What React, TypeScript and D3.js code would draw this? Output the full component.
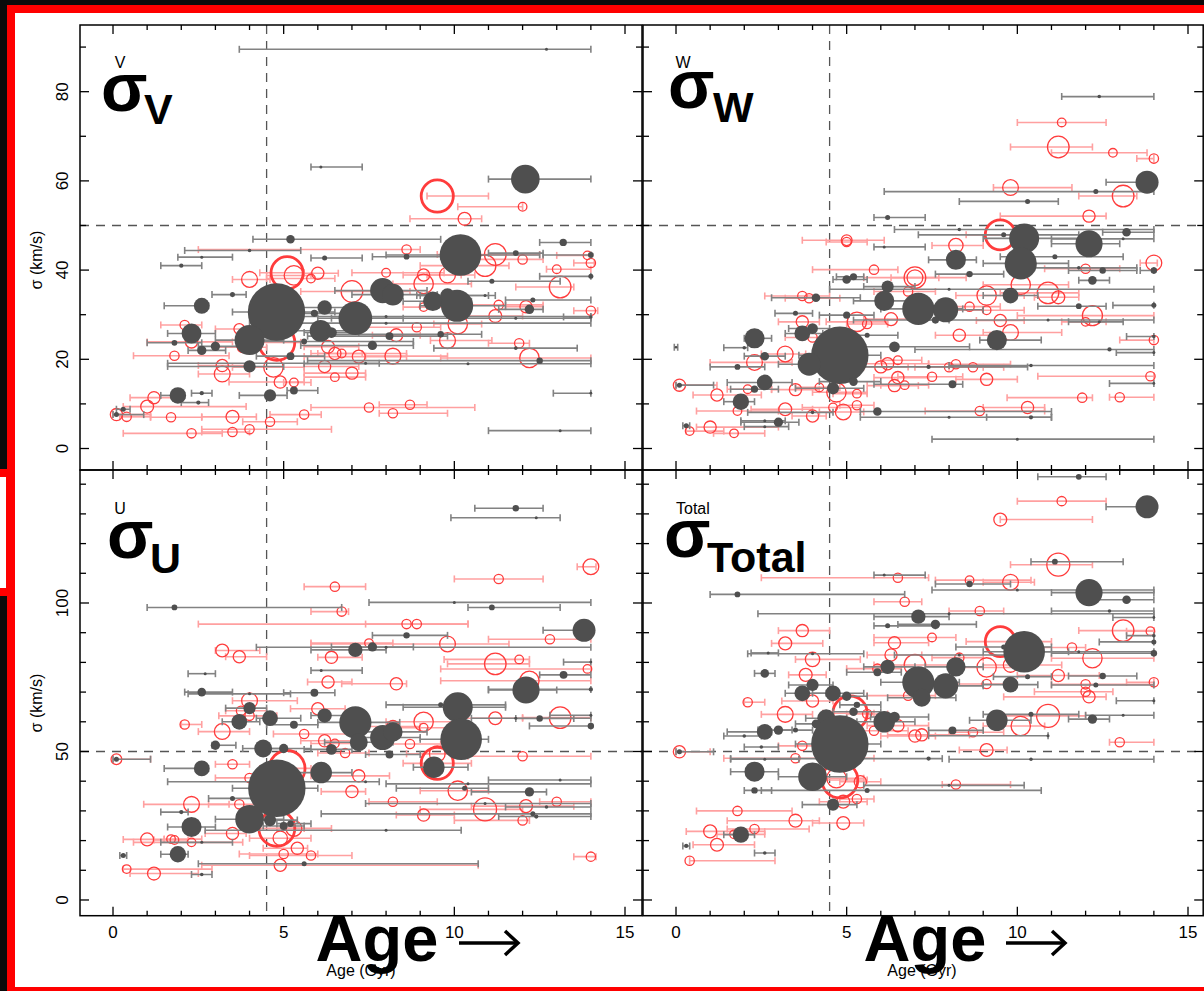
import React from 'react';
import * as d3 from 'd3';

// Each row: [age (Gyr), sigma (km/s), age lower bound, age upper bound, number of stars]
type Row = [number, number, number, number, number];

const V_GRAY: Row[] = [
  [6.09, 63.1, 5.8, 7.3, 1], [12.08, 60.4, 11.0, 14.0, 91], [5.2, 46.9, 4.1, 9.6, 8], [13.19, 46.2, 12.5, 14.0, 6],
  [4.0, 44.4, 2.1, 5.5, 1.4], [2.6, 42.9, 1.9, 3.5, 1], [2.0, 41.0, 1.4, 2.6, 2], [6.2, 42.7, 5.8, 7.3, 2.8],
  [8.6, 43.0, 7.6, 9.6, 3.7], [10.18, 43.4, 8.0, 12.5, 192], [11.8, 43.8, 11.0, 12.6, 3.7], [14.0, 43.4, 12.6, 14.0, 3.7],
  [14.0, 38.6, 12.5, 14.0, 2.8], [11.1, 37.5, 10.4, 13.1, 2.8], [7.9, 35.4, 6.5, 9.2, 70], [8.2, 34.5, 7.0, 9.5, 52],
  [3.5, 34.5, 2.9, 3.9, 2.8], [10.9, 34.3, 8.9, 11.2, 1], [2.6, 32.0, 1.5, 2.8, 28], [4.79, 30.6, 3.5, 6.5, 366],
  [6.2, 31.6, 5.5, 7.0, 23], [5.9, 30.3, 5.2, 6.8, 5.7], [7.1, 29.2, 6.0, 8.5, 126], [9.37, 33.0, 8.5, 10.5, 42],
  [9.8, 34.3, 9.0, 11.0, 23], [10.08, 32.0, 9.0, 11.5, 115], [12.3, 33.3, 11.5, 14.0, 2.8], [12.2, 31.2, 11.3, 12.6, 10],
  [8.0, 29.6, 5.0, 14.0, 1], [8.0, 28.1, 4.0, 14.0, 1], [14.0, 29.5, 13.2, 14.0, 1.4], [11.8, 29.2, 6.4, 14.0, 1],
  [2.3, 25.8, 1.6, 3.0, 44], [6.08, 26.4, 5.0, 7.0, 52], [6.4, 26.0, 5.6, 7.2, 12.8], [4.0, 24.3, 3.0, 5.0, 100],
  [1.8, 23.7, 1.0, 2.6, 3.7], [2.6, 22.0, 2.2, 3.3, 9.6], [3.0, 22.9, 2.5, 3.9, 9.6], [5.6, 24.0, 4.4, 8.8, 3.7],
  [8.1, 25.2, 5.7, 9.8, 6.9], [9.6, 25.6, 6.4, 10.8, 4.6], [7.6, 23.1, 5.5, 8.8, 9.6], [11.8, 22.5, 9.4, 13.6, 1.4],
  [5.2, 20.7, 4.2, 6.2, 6.9], [12.5, 19.7, 5.7, 14.0, 4.6], [7.4, 19.1, 1.6, 7.8, 1], [10.4, 19.0, 5.6, 14.0, 1],
  [4.0, 18.4, 1.6, 5.0, 16.5], [1.9, 11.9, 1.4, 2.1, 30], [2.6, 12.4, 2.3, 2.9, 2], [2.5, 10.3, 2.0, 2.8, 2],
  [4.6, 11.9, 3.7, 5.1, 16.5], [5.3, 13.0, 5.1, 6.0, 6.9], [14.0, 12.4, 12.9, 14.0, 0.9], [0.3, 8.8, 0.1, 0.5, 2.8],
  [0.1, 7.6, 0.0, 0.9, 2.8], [13.1, 4.0, 11.0, 14.0, 1], [12.7, 89.5, 3.7, 14.0, 1],
];

const V_RED: Row[] = [
  [9.5, 56.6, 9.2, 11.0, 115], [12.0, 54.2, 10.1, 12.0, 8.2], [10.3, 51.5, 8.7, 10.8, 18.5], [8.6, 44.6, 2.5, 9.0, 9.6],
  [11.2, 43.5, 9.5, 12.5, 52], [10.9, 41.0, 9.0, 11.6, 52], [12.0, 42.4, 10.0, 12.6, 9.6], [13.9, 43.3, 13.0, 14.0, 8.2],
  [14.0, 41.6, 13.5, 14.1, 9.6], [13.0, 40.2, 12.7, 14.0, 8.2], [5.1, 39.4, 4.3, 5.6, 115], [5.3, 38.8, 4.5, 5.8, 42],
  [4.0, 37.9, 3.5, 4.6, 28], [6.0, 39.3, 5.6, 6.6, 16.5], [5.8, 38.1, 4.5, 6.5, 8.2], [8.0, 39.4, 7.0, 9.7, 8.2],
  [9.1, 38.9, 8.5, 10.2, 16.5], [9.1, 36.9, 8.2, 10.5, 42], [9.8, 38.9, 9.2, 10.6, 28], [13.1, 36.2, 11.8, 13.5, 52],
  [7.0, 35.2, 5.5, 8.7, 52], [11.3, 32.2, 10.2, 12.6, 9.6], [12.1, 31.8, 11.5, 12.6, 16.5], [14.0, 30.9, 13.5, 14.2, 9.6],
  [11.2, 29.7, 10.3, 12.0, 18.5], [9.1, 31.7, 8.5, 9.8, 8.2], [10.1, 27.9, 9.4, 10.8, 42], [8.9, 27.2, 7.3, 9.6, 9.6],
  [2.1, 27.7, 1.4, 2.6, 9.6], [3.7, 26.8, 3.0, 4.6, 12.8], [8.3, 25.4, 7.6, 9.0, 18.5], [2.3, 23.9, 1.0, 3.5, 16.5],
  [3.8, 22.7, 3.0, 4.5, 12.8], [4.8, 23.8, 4.2, 5.5, 143], [9.8, 24.2, 9.3, 11.1, 28], [11.9, 23.6, 11.0, 12.2, 9.6],
  [1.8, 20.8, 0.6, 3.4, 9.6], [6.3, 22.8, 5.6, 7.2, 18.5], [6.5, 21.3, 5.8, 7.3, 16.5], [6.7, 21.3, 6.0, 8.6, 8.2],
  [7.2, 20.6, 5.6, 8.6, 18.5], [8.2, 20.7, 7.4, 9.8, 28], [12.2, 20.3, 9.6, 14.0, 42], [4.7, 18.2, 3.5, 5.6, 42],
  [6.2, 18.4, 5.6, 7.2, 16.5], [3.2, 18.6, 2.5, 4.0, 16.5], [3.2, 16.7, 2.5, 4.0, 28], [7.0, 16.9, 5.6, 7.4, 16.5],
  [6.5, 16.0, 5.6, 7.4, 8.2], [4.9, 14.9, 3.4, 5.6, 16.5], [5.3, 14.8, 5.0, 5.8, 8.2], [1.2, 11.4, 0.5, 2.0, 16.5],
  [1.0, 9.4, 0.3, 3.9, 18.5], [0.1, 7.6, 0.0, 1.1, 16.5], [0.4, 7.1, 0.2, 1.1, 9.6], [1.7, 7.0, 1.1, 2.6, 9.6],
  [3.5, 7.1, 2.6, 4.2, 18.5], [4.6, 6.0, 3.8, 5.4, 9.6], [5.6, 7.6, 4.6, 6.1, 9.6], [7.5, 9.2, 5.8, 10.6, 9.6],
  [8.7, 9.8, 7.8, 9.2, 9.6], [8.2, 7.9, 7.8, 9.8, 9.6], [2.3, 3.4, 0.3, 3.2, 9.6], [3.5, 3.7, 2.6, 4.0, 9.6],
  [4.0, 4.3, 2.6, 6.4, 9.6],
];

const W_GRAY: Row[] = [
  [12.4, 78.9, 11.3, 14.0, 1.4], [13.8, 59.7, 12.6, 14.0, 59], [12.3, 57.6, 6.1, 14.0, 2.8], [10.3, 55.4, 8.3, 11.2, 2.8],
  [6.2, 51.8, 5.8, 7.3, 2.8], [8.3, 49.1, 6.4, 14.0, 1.4], [9.6, 47.9, 7.1, 11.8, 2.8], [10.2, 47.1, 9.0, 11.8, 100],
  [12.1, 45.9, 11.0, 13.0, 82], [13.2, 48.5, 12.5, 14.0, 8.2], [13.1, 47.0, 11.0, 14.0, 1], [6.1, 45.2, 5.8, 7.3, 1],
  [8.2, 42.3, 7.4, 8.8, 44.8], [11.1, 43.0, 9.5, 13.1, 2.8], [10.1, 41.5, 9.0, 11.5, 115], [11.8, 40.5, 10.5, 13.5, 1.4],
  [12.5, 39.9, 11.5, 13.5, 4.6], [14.0, 39.9, 13.6, 14.0, 4.6], [8.6, 39.1, 7.6, 9.6, 4.6], [12.2, 37.7, 11.8, 12.7, 8.2],
  [5.0, 37.9, 4.6, 5.6, 8.2], [5.2, 38.5, 4.7, 5.5, 5.7], [8.0, 35.7, 4.5, 14.0, 1], [6.2, 36.3, 5.5, 7.0, 16.5],
  [6.1, 33.1, 5.2, 7.2, 44.8], [9.8, 34.3, 9.0, 10.6, 27.6], [4.1, 33.8, 2.8, 5.4, 8.2], [7.1, 31.3, 6.0, 8.4, 115],
  [7.9, 31.1, 7.0, 9.0, 70], [7.6, 28.8, 7.0, 8.0, 5.7], [3.5, 30.3, 2.9, 4.0, 2.8], [5.0, 29.9, 4.2, 5.8, 5.7],
  [11.8, 31.9, 10.6, 12.6, 3.7], [14.0, 32.1, 12.8, 14.0, 2.8], [10.9, 28.8, 5.2, 14.0, 1], [12.4, 28.4, 11.5, 13.1, 1],
  [4.0, 26.9, 3.3, 4.5, 12.8], [3.7, 25.8, 3.2, 4.3, 27.6], [2.3, 24.7, 2.0, 2.8, 44.8], [5.6, 25.4, 4.8, 6.5, 2.8],
  [9.4, 24.3, 8.9, 10.7, 44.8], [14.0, 25.1, 13.2, 14.0, 1.4], [0.0, 22.7, -0.05, 0.05, 0.7], [2.0, 22.6, 1.4, 2.1, 1.4],
  [4.8, 20.9, 3.6, 6.0, 366], [3.9, 18.9, 3.0, 4.6, 58.5], [6.4, 22.8, 5.0, 8.6, 12.8], [2.6, 20.7, 2.0, 3.2, 8.2],
  [12.7, 22.2, 7.0, 14.0, 2], [14.0, 21.5, 12.9, 14.0, 1], [1.8, 18.3, 1.0, 2.6, 3.7], [7.4, 18.3, 5.0, 10.3, 2],
  [10.4, 18.6, 8.0, 14.0, 1.4], [2.6, 14.8, 1.5, 3.4, 27.6], [2.3, 13.3, 1.6, 3.0, 5.7], [8.1, 14.4, 5.8, 8.4, 6.9],
  [4.6, 13.5, 3.5, 5.5, 16.5], [5.2, 15.0, 4.2, 6.0, 8.2], [14.0, 14.6, 12.7, 14.0, 0.9], [1.9, 10.5, 1.4, 2.3, 30],
  [4.0, 8.1, 2.1, 4.6, 1.4], [5.9, 8.3, 5.4, 11.0, 8.2], [3.0, 5.9, 1.9, 3.6, 9.6], [2.6, 6.2, 1.9, 3.2, 1],
  [2.6, 4.9, 2.0, 3.3, 1], [0.3, 5.1, 0.2, 0.4, 2.8], [0.1, 14.2, 0.0, 1.1, 2.8], [10.4, 7.0, 9.1, 11.0, 2],
  [8.0, 7.0, 5.4, 11.0, 1], [10.0, 2.1, 7.5, 14.0, 1],
];

const W_RED: Row[] = [
  [11.3, 73.1, 10.0, 12.6, 8.2], [11.2, 67.6, 9.8, 12.2, 52], [12.8, 66.3, 11.0, 13.8, 8.2], [14.0, 65.0, 13.5, 14.0, 9.6],
  [9.8, 58.5, 9.3, 11.6, 27.6], [13.1, 56.6, 11.8, 13.5, 52], [12.1, 52.1, 9.5, 12.6, 16.5], [9.5, 47.9, 8.5, 10.5, 100],
  [8.2, 45.5, 7.5, 9.0, 22.8], [5.0, 46.7, 3.7, 6.1, 12.8], [5.0, 46.3, 4.4, 5.6, 9.6], [14.0, 41.6, 13.6, 14.1, 27.6],
  [5.8, 40.1, 4.0, 6.5, 9.6], [7.0, 38.3, 5.5, 8.5, 52], [7.0, 38.3, 6.3, 7.7, 27.6], [12.0, 40.3, 10.8, 13.0, 9.6],
  [10.1, 36.7, 9.0, 11.5, 41.6], [10.9, 34.9, 9.5, 11.8, 51.4], [11.2, 33.9, 10.5, 11.8, 18.5], [9.1, 34.3, 8.2, 10.2, 41.6],
  [3.7, 34.2, 2.6, 4.5, 9.6], [3.9, 33.7, 3.2, 4.8, 9.6], [6.8, 35.2, 5.8, 7.6, 9.6], [8.6, 31.8, 7.8, 9.5, 9.6],
  [9.1, 31.0, 8.0, 10.2, 8.2], [5.3, 28.4, 4.4, 6.2, 41.6], [5.6, 27.9, 5.0, 6.2, 9.6], [6.3, 29.0, 5.5, 7.2, 18.5],
  [3.7, 28.4, 3.0, 4.2, 16.5], [9.5, 28.7, 8.8, 10.2, 16.5], [12.2, 29.8, 10.0, 14.0, 44.8], [12.0, 28.4, 11.3, 12.6, 8.2],
  [4.0, 24.9, 3.2, 4.8, 9.6], [8.3, 25.4, 7.6, 9.2, 16.5], [9.8, 26.0, 9.0, 11.3, 27.6], [14.0, 24.3, 13.0, 14.0, 9.6],
  [3.2, 21.2, 2.5, 3.8, 27.6], [2.3, 19.3, 1.0, 3.4, 27.6], [6.2, 19.0, 5.4, 7.4, 16.5], [6.0, 18.3, 5.5, 6.8, 16.5],
  [6.5, 19.8, 6.0, 7.2, 8.2], [8.0, 18.2, 7.0, 9.0, 9.6], [8.2, 18.9, 7.4, 9.8, 9.6], [8.7, 18.2, 8.0, 9.6, 9.6],
  [6.5, 15.9, 5.8, 7.4, 16.5], [7.5, 16.1, 6.5, 8.4, 9.6], [9.1, 15.5, 8.2, 10.0, 16.5], [13.9, 16.2, 10.6, 14.0, 9.6],
  [0.1, 14.2, 0.0, 1.2, 16.5], [1.2, 12.0, 0.5, 2.5, 16.5], [2.1, 13.3, 1.5, 2.8, 8.2], [3.5, 13.2, 2.8, 4.2, 16.5],
  [4.2, 13.7, 3.5, 4.8, 8.2], [4.7, 12.6, 4.0, 5.6, 41.6], [5.3, 12.3, 4.6, 5.6, 8.2], [6.4, 14.1, 5.6, 7.1, 16.5],
  [6.7, 14.2, 6.0, 7.4, 8.2], [11.9, 11.4, 9.7, 12.2, 9.6], [13.0, 11.5, 12.7, 14.0, 9.6], [1.8, 8.4, 0.6, 3.0, 8.2],
  [3.2, 8.8, 2.2, 4.0, 18.5], [4.0, 7.3, 3.4, 4.4, 16.5], [4.6, 9.2, 3.7, 5.4, 8.2], [4.9, 8.2, 4.2, 5.5, 27.6],
  [5.3, 9.7, 4.8, 5.8, 9.6], [8.9, 8.4, 7.3, 10.8, 9.6], [10.3, 9.2, 9.0, 10.8, 16.5], [1.0, 4.8, 0.6, 3.0, 16.5],
  [0.4, 3.9, 0.3, 1.4, 8.2], [1.7, 3.4, 1.1, 2.6, 8.2],
];

const U_GRAY: Row[] = [
  [11.8, 131.9, 10.6, 12.6, 4.6], [12.4, 128.7, 9.9, 13.1, 1], [10.0, 100.2, 7.5, 14.0, 1], [1.8, 98.5, 1.0, 6.7, 3.7],
  [11.1, 98.5, 10.4, 13.1, 3.7], [13.8, 90.8, 12.6, 14.0, 58.5], [8.6, 89.1, 7.6, 9.8, 4.6], [7.1, 84.2, 5.8, 8.0, 22.8],
  [7.6, 85.2, 6.4, 8.8, 9.6], [8.0, 85.1, 4.2, 14.0, 1], [14.0, 80.1, 13.2, 14.0, 0.9], [2.7, 76.2, 2.2, 3.0, 1],
  [6.1, 77.3, 5.8, 7.3, 1], [13.2, 75.8, 12.5, 14.0, 6.9], [12.1, 70.7, 11.0, 13.0, 82], [14.0, 70.9, 11.0, 14.0, 2],
  [2.6, 70.0, 2.1, 3.5, 8.2], [5.9, 69.8, 5.0, 6.5, 6.9], [4.0, 69.4, 2.2, 5.2, 1], [4.0, 64.6, 3.3, 4.5, 16.5],
  [10.1, 64.9, 8.5, 11.5, 100], [9.6, 65.7, 8.0, 11.5, 2.8], [3.7, 60.0, 3.2, 4.3, 27.6], [4.6, 61.2, 4.2, 5.5, 27.6],
  [6.2, 62.1, 5.8, 7.0, 22.8], [7.1, 59.8, 6.0, 8.4, 115], [5.3, 59.0, 4.5, 6.0, 6.9], [12.5, 61.1, 11.8, 13.5, 4.6],
  [14.0, 58.6, 12.2, 14.0, 4.6], [11.8, 61.2, 10.5, 14.0, 1], [14.0, 62.2, 12.8, 14.0, 1], [7.9, 54.7, 7.0, 9.0, 70],
  [8.2, 56.6, 7.3, 9.2, 41.6], [7.2, 53.1, 6.2, 8.2, 35.7], [10.2, 54.1, 9.0, 11.0, 192], [3.0, 52.1, 2.9, 3.6, 9.6],
  [4.4, 51.0, 3.8, 5.0, 35.7], [5.0, 51.0, 4.6, 5.8, 9.6], [6.4, 50.7, 5.6, 7.0, 12.8], [8.1, 49.0, 7.4, 9.0, 6.9],
  [0.1, 47.4, 0.0, 1.1, 2.8], [2.6, 44.3, 1.5, 2.8, 27.6], [9.4, 44.7, 8.8, 10.4, 51.4], [6.1, 42.9, 5.2, 7.0, 51.4],
  [4.8, 37.6, 3.5, 6.0, 366], [7.4, 39.8, 1.6, 7.8, 1], [10.4, 39.1, 8.0, 14.0, 1], [13.1, 40.4, 11.0, 14.0, 1],
  [10.3, 37.6, 8.3, 11.0, 2.8], [12.2, 36.4, 10.5, 12.7, 9.6], [3.5, 34.2, 2.8, 4.5, 2.8], [4.0, 27.2, 3.0, 5.0, 91],
  [4.6, 26.9, 3.8, 5.4, 16.5], [2.0, 29.6, 1.4, 2.2, 2], [10.9, 32.5, 7.4, 14.0, 1], [12.7, 31.3, 11.5, 14.0, 1.4],
  [12.3, 29.0, 6.1, 14.0, 2.8], [12.4, 28.1, 11.3, 14.0, 2], [2.3, 24.6, 1.6, 3.0, 44.8], [5.0, 24.9, 4.4, 5.6, 6.9],
  [5.2, 25.7, 4.8, 5.8, 4.6], [8.0, 23.5, 2.7, 10.2, 1], [2.6, 19.4, 1.4, 3.5, 1], [1.9, 15.4, 1.4, 2.2, 30],
  [0.3, 15.0, 0.2, 0.4, 2.8], [5.6, 12.2, 2.5, 10.7, 2.8], [2.6, 8.6, 2.3, 2.9, 1.4],
];

const U_RED: Row[] = [
  [14.0, 112.2, 13.6, 14.15, 27.6], [11.3, 108.1, 10.0, 12.6, 9.6], [6.5, 105.5, 5.6, 7.4, 9.6], [6.7, 97.1, 5.8, 6.9, 9.6],
  [8.6, 92.9, 2.5, 10.4, 9.6], [8.9, 92.9, 7.4, 10.4, 9.6], [12.8, 87.8, 11.0, 14.0, 9.6], [7.5, 86.5, 5.8, 8.2, 8.2],
  [9.8, 86.2, 5.8, 11.6, 27.6], [3.2, 84.0, 3.0, 4.3, 18.5], [3.7, 81.9, 3.3, 4.5, 16.5], [6.4, 81.7, 6.0, 7.3, 16.5],
  [11.2, 79.5, 9.8, 12.2, 51.4], [11.9, 81.0, 9.7, 12.2, 8.2], [13.9, 77.8, 9.6, 14.0, 8.2], [6.3, 73.4, 5.7, 7.0, 16.5],
  [8.3, 72.8, 6.7, 8.6, 16.5], [4.0, 67.1, 3.5, 5.4, 27.6], [6.0, 64.4, 5.2, 6.8, 16.5], [3.75, 63.7, 3.3, 4.5, 9.6],
  [4.0, 62.0, 3.1, 4.8, 9.6], [12.2, 73.8, 9.6, 14.0, 41.6], [11.2, 61.2, 10.0, 12.0, 18.5], [13.1, 61.4, 12.0, 14.0, 51.4],
  [9.1, 60.0, 8.0, 10.3, 41.6], [9.1, 58.0, 8.3, 10.0, 8.2], [8.2, 58.4, 7.5, 9.0, 16.5], [2.1, 59.1, 2.0, 2.6, 9.6],
  [3.2, 56.7, 2.5, 4.0, 27.6], [5.6, 55.9, 4.7, 7.2, 9.6], [6.2, 53.6, 5.5, 7.0, 16.5], [6.5, 52.7, 5.8, 7.2, 8.2],
  [8.7, 52.5, 8.0, 9.6, 9.6], [6.8, 49.5, 6.0, 7.5, 9.6], [9.5, 49.2, 8.6, 10.2, 27.6], [9.5, 46.0, 8.5, 10.5, 115],
  [12.0, 48.4, 10.4, 14.0, 9.6], [3.5, 45.7, 3.0, 4.0, 9.6], [5.1, 44.3, 4.3, 5.8, 143], [7.2, 41.8, 5.8, 8.1, 16.5],
  [7.0, 36.5, 6.1, 7.4, 16.5], [10.1, 36.8, 9.0, 11.0, 41.6], [4.0, 41.1, 3.0, 4.8, 9.6], [2.3, 32.2, 0.9, 3.4, 27.6],
  [3.7, 32.2, 2.8, 4.5, 9.6], [8.2, 33.1, 7.5, 9.5, 9.6], [13.0, 33.1, 12.5, 14.0, 9.6], [10.9, 30.5, 9.0, 12.0, 58.5],
  [12.1, 31.6, 10.5, 13.5, 18.5], [9.1, 28.6, 8.3, 10.0, 16.5], [12.0, 26.8, 10.0, 12.2, 9.6], [4.8, 24.1, 4.0, 5.6, 143],
  [5.3, 24.1, 4.8, 6.4, 27.6], [4.9, 20.8, 4.0, 5.8, 22.8], [5.4, 17.4, 4.4, 5.7, 16.5], [3.5, 22.4, 2.7, 3.9, 16.5],
  [1.0, 20.4, 0.3, 1.5, 18.5], [1.7, 20.5, 1.5, 2.6, 8.2], [1.8, 20.2, 1.2, 2.2, 8.2], [2.3, 19.4, 0.6, 3.8, 8.2],
  [5.0, 15.5, 3.7, 6.0, 9.6], [5.8, 15.0, 4.0, 7.0, 9.6], [4.9, 11.7, 2.6, 10.7, 16.5], [0.4, 10.4, 0.3, 2.9, 8.2],
  [1.2, 8.9, 0.5, 2.5, 18.5], [14.0, 14.6, 13.5, 14.15, 9.6], [0.1, 47.4, 0.0, 1.1, 12.8],
];

const TOTAL_GRAY: Row[] = [
  [11.8, 142.5, 10.6, 12.6, 3.7], [13.8, 132.4, 12.6, 14.0, 58.5], [11.1, 113.9, 10.4, 13.1, 3.7], [12.1, 103.5, 11.0, 14.0, 82],
  [13.2, 101.1, 12.3, 14.0, 8.2], [1.8, 102.9, 1.0, 6.7, 3.7], [6.1, 109.4, 5.8, 7.3, 1], [8.6, 106.4, 7.6, 9.8, 4.6],
  [10.0, 104.4, 7.5, 14.0, 1], [7.1, 95.4, 5.8, 8.0, 22.8], [7.6, 92.8, 6.5, 8.8, 9.6], [6.2, 92.3, 5.8, 7.6, 2.8],
  [8.0, 96.4, 2.4, 14.0, 1], [12.7, 97.3, 11.0, 14.0, 1.4], [14.0, 95.1, 12.8, 14.0, 0.9], [14.0, 89.0, 13.2, 14.0, 1.4],
  [14.0, 86.9, 12.4, 14.0, 2.8], [14.0, 83.1, 11.0, 14.0, 4.6], [10.2, 83.6, 9.0, 11.5, 192], [9.6, 85.2, 8.2, 11.0, 2.8],
  [2.7, 83.2, 2.2, 3.0, 1], [4.0, 82.9, 2.1, 5.5, 1], [8.3, 82.5, 6.4, 10.6, 1], [11.8, 83.6, 10.5, 14.0, 1],
  [2.6, 76.3, 2.3, 2.9, 8.2], [6.2, 78.5, 5.5, 7.0, 22.8], [5.9, 76.7, 5.0, 6.6, 6.9], [8.2, 78.5, 7.3, 9.0, 41.6],
  [7.1, 73.3, 6.0, 8.3, 115], [7.9, 72.1, 7.0, 9.0, 70], [7.2, 68.1, 6.2, 8.2, 35.7], [9.8, 72.5, 9.0, 10.6, 27.6],
  [12.5, 75.4, 11.5, 13.5, 4.6], [12.3, 72.4, 11.0, 14.0, 2.8], [10.3, 75.2, 9.3, 11.0, 2.8], [14.0, 67.1, 12.9, 14.0, 1],
  [3.7, 69.6, 3.2, 4.4, 27.6], [4.0, 72.4, 3.3, 4.6, 16.5], [4.6, 69.6, 4.0, 5.5, 27.6], [5.0, 68.6, 4.5, 5.6, 9.6],
  [5.3, 65.7, 4.8, 6.0, 4.6], [5.2, 63.4, 4.6, 6.0, 8.2], [6.1, 60.0, 5.3, 7.0, 51.4], [6.4, 61.6, 5.7, 7.4, 12.8],
  [9.4, 60.5, 8.6, 10.4, 51.4], [12.2, 60.9, 11.5, 12.7, 9.6], [10.4, 62.5, 9.0, 11.8, 2.8], [13.1, 62.2, 12.0, 14.0, 1],
  [4.4, 61.2, 3.8, 5.0, 35.7], [4.1, 59.3, 3.5, 4.6, 8.2], [4.8, 52.5, 3.5, 6.0, 366], [2.6, 56.6, 1.5, 2.8, 27.6],
  [3.0, 57.2, 2.4, 3.4, 9.6], [3.5, 57.2, 3.0, 4.0, 2.8], [2.0, 55.2, 1.4, 2.5, 1.4], [2.5, 51.5, 2.0, 3.0, 1.4],
  [8.1, 57.1, 7.4, 9.0, 6.9], [10.9, 55.3, 7.4, 10.9, 1], [0.1, 49.9, 0.0, 1.1, 2.8], [7.4, 47.6, 1.6, 7.8, 2],
  [10.4, 47.4, 8.0, 14.0, 1.4], [2.6, 47.4, 1.6, 3.6, 1], [2.3, 43.2, 1.6, 3.0, 44.8], [4.0, 41.5, 3.0, 5.0, 91],
  [2.3, 36.9, 2.0, 2.8, 4.6], [5.6, 36.9, 2.5, 10.7, 2.8], [8.0, 38.6, 5.5, 10.2, 1], [4.6, 32.1, 3.7, 5.3, 16.5],
  [1.9, 22.0, 1.4, 2.3, 30], [0.3, 18.2, 0.2, 0.4, 2], [2.6, 15.8, 2.3, 2.9, 1.4],
];

const TOTAL_RED: Row[] = [
  [11.3, 134.3, 10.0, 12.6, 9.6], [9.5, 128.1, 9.5, 12.2, 18.5], [11.2, 112.9, 9.8, 12.2, 58.5], [6.5, 108.5, 2.5, 7.4, 9.6],
  [8.6, 107.7, 7.6, 10.4, 8.2], [9.8, 107.0, 9.0, 10.5, 27.6], [6.7, 100.4, 5.8, 7.2, 9.6], [8.9, 97.3, 8.0, 9.6, 9.6],
  [13.1, 90.7, 11.8, 14.0, 51.4], [13.9, 90.5, 13.2, 14.0, 8.2], [3.7, 90.7, 3.0, 4.5, 16.5], [3.2, 86.4, 2.8, 4.3, 18.5],
  [6.4, 86.6, 5.8, 7.4, 16.5], [7.5, 88.4, 5.8, 8.2, 8.2], [9.5, 87.0, 8.5, 11.0, 100], [11.6, 85.0, 10.2, 12.0, 9.6],
  [12.2, 81.4, 11.0, 14.0, 41.6], [4.0, 81.0, 3.5, 5.4, 22.8], [6.3, 82.5, 5.6, 7.2, 16.5], [7.0, 79.1, 5.8, 8.0, 51.4],
  [8.3, 81.6, 7.5, 9.0, 9.6], [9.1, 78.3, 8.2, 10.3, 41.6], [9.8, 79.1, 9.0, 11.3, 22.8], [11.2, 75.6, 10.0, 12.4, 16.5],
  [3.8, 75.8, 3.3, 4.4, 18.5], [5.9, 77.9, 5.0, 6.6, 9.6], [14.0, 73.3, 13.2, 14.0, 9.6], [12.0, 72.6, 11.0, 14.0, 9.6],
  [12.0, 70.1, 10.5, 12.8, 9.6], [12.1, 68.4, 9.6, 12.6, 16.5], [9.1, 72.7, 8.0, 9.8, 9.6], [6.8, 68.8, 5.6, 7.6, 9.6],
  [4.0, 67.0, 3.1, 4.6, 16.5], [2.1, 66.6, 2.0, 2.6, 9.6], [3.2, 62.5, 2.5, 4.0, 27.6], [5.1, 62.9, 4.3, 5.8, 131.5],
  [5.6, 62.6, 5.0, 6.2, 9.6], [6.5, 58.7, 5.6, 7.4, 16.5], [5.8, 57.0, 5.0, 6.8, 9.6], [7.0, 55.2, 6.0, 7.6, 16.5],
  [7.2, 55.6, 6.2, 8.6, 16.5], [8.7, 56.5, 8.0, 9.6, 9.6], [10.1, 58.6, 9.0, 10.8, 41.6], [10.9, 62.0, 9.6, 12.0, 58.5],
  [13.0, 53.1, 12.7, 14.0, 9.6], [9.1, 50.5, 8.3, 9.7, 18.5], [3.7, 51.9, 3.0, 4.5, 9.6], [3.5, 47.7, 1.4, 5.8, 9.6],
  [0.1, 49.9, 0.0, 1.0, 16.5], [4.7, 41.0, 4.0, 5.5, 41.6], [4.8, 40.4, 4.2, 5.6, 143], [5.4, 39.8, 4.8, 6.0, 16.5],
  [8.2, 38.9, 7.8, 9.8, 9.6], [5.3, 34.0, 4.8, 5.8, 9.6], [4.9, 33.1, 4.2, 5.6, 18.5], [1.8, 30.0, 0.6, 3.4, 9.6],
  [3.5, 26.7, 1.5, 4.2, 18.5], [4.9, 25.9, 4.0, 5.5, 18.5], [1.0, 23.1, 0.3, 2.6, 18.5], [2.3, 23.9, 1.5, 3.9, 9.6],
  [1.7, 22.1, 1.2, 2.6, 8.2], [1.2, 18.6, 0.5, 2.3, 18.5], [0.4, 13.2, 0.4, 2.9, 9.6],
];

const AGE_DOMAIN: [number, number] = [-0.967, 15.498];
const AGE_TICKS = d3.range(0, 16);
const AGE_LABELS = [0, 5, 10, 15];
const SOLAR_AGE = 4.5;
const SIGMA_REF = 50;

const TOP_SIGMA_DOMAIN: [number, number] = [-4.82, 94.95];
const TOP_SIGMA_TICKS = d3.range(0, 100, 10);
const TOP_SIGMA_LABELS = [0, 20, 40, 60, 80];
const BOTTOM_SIGMA_DOMAIN: [number, number] = [-5.29, 144.78];
const BOTTOM_SIGMA_TICKS = d3.range(0, 150, 10);
const BOTTOM_SIGMA_LABELS = [0, 50, 100];

const GRAY_FILL = '#4f4f4f';
const GRAY_BAR = '#828282';
const RED_RING = '#ff3c3c';
const RED_BAR = '#ffa0a0';
const FONT = '"Liberation Sans", Arial, Helvetica, sans-serif';

const rScale = d3.scaleSqrt().domain([0, 400]).range([0, 30]);

interface PanelSpec {
  id: string;
  left: number;
  top: number;
  bottom: number;
  frameRight: number;
  sigmaDomain: [number, number];
  sigmaTicks: number[];
  sigmaLabels: number[];
  gray: Row[];
  red: Row[];
  component: string;
  showSigmaLabels: boolean;
  showAgeLabels: boolean;
  title: { sx: number; sy: number; subX: number; subY: number; tagX: number; tagY: number; tagAnchor: string };
}

const PANELS: PanelSpec[] = [
  {
    id: 'v', left: 80, top: 25, bottom: 470, frameRight: 642,
    sigmaDomain: TOP_SIGMA_DOMAIN, sigmaTicks: TOP_SIGMA_TICKS, sigmaLabels: TOP_SIGMA_LABELS,
    gray: V_GRAY, red: V_RED, component: 'V', showSigmaLabels: true, showAgeLabels: false,
    title: { sx: 101, sy: 111, subX: 144, subY: 124, tagX: 120, tagY: 68, tagAnchor: 'middle' },
  },
  {
    id: 'w', left: 643, top: 25, bottom: 470, frameRight: 1203.2,
    sigmaDomain: TOP_SIGMA_DOMAIN, sigmaTicks: TOP_SIGMA_TICKS, sigmaLabels: TOP_SIGMA_LABELS,
    gray: W_GRAY, red: W_RED, component: 'W', showSigmaLabels: false, showAgeLabels: false,
    title: { sx: 668, sy: 108, subX: 713, subY: 122, tagX: 683, tagY: 68, tagAnchor: 'middle' },
  },
  {
    id: 'u', left: 80, top: 470, bottom: 915.7, frameRight: 642,
    sigmaDomain: BOTTOM_SIGMA_DOMAIN, sigmaTicks: BOTTOM_SIGMA_TICKS, sigmaLabels: BOTTOM_SIGMA_LABELS,
    gray: U_GRAY, red: U_RED, component: 'U', showSigmaLabels: true, showAgeLabels: true,
    title: { sx: 107, sy: 558, subX: 150, subY: 573, tagX: 120, tagY: 514, tagAnchor: 'middle' },
  },
  {
    id: 't', left: 643, top: 470, bottom: 915.7, frameRight: 1203.2,
    sigmaDomain: BOTTOM_SIGMA_DOMAIN, sigmaTicks: BOTTOM_SIGMA_TICKS, sigmaLabels: BOTTOM_SIGMA_LABELS,
    gray: TOTAL_GRAY, red: TOTAL_RED, component: 'Total', showSigmaLabels: false, showAgeLabels: true,
    title: { sx: 664, sy: 557, subX: 707, subY: 572, tagX: 676, tagY: 514, tagAnchor: 'start' },
  },
];

const PANEL_WIDTH = 562;

function ErrorBar({ x, y, row, color }: { x: d3.ScaleLinear<number, number>; y: d3.ScaleLinear<number, number>; row: Row; color: string }) {
  const [, s, lo, hi] = row;
  const yy = y(s);
  const x0 = x(lo);
  const x1 = x(hi);
  const cap = 3.5;
  return (
    <g stroke={color} strokeWidth={1.6} fill="none">
      <line x1={x0} x2={x1} y1={yy} y2={yy} />
      <line x1={x0} x2={x0} y1={yy - cap} y2={yy + cap} />
      <line x1={x1} x2={x1} y1={yy - cap} y2={yy + cap} />
    </g>
  );
}

function Panel({ p }: { p: PanelSpec }) {
  const right = p.left + PANEL_WIDTH;
  const x = d3.scaleLinear().domain(AGE_DOMAIN).range([p.left, right]);
  const y = d3.scaleLinear().domain(p.sigmaDomain).range([p.bottom, p.top]);
  const clipId = `clip-${p.id}`;
  const fr = p.frameRight;
  const isMajorAge = (t: number) => t % 5 === 0;
  const isMajorSigma = (t: number) => p.sigmaLabels.includes(t);

  return (
    <g>
      <defs>
        <clipPath id={clipId}>
          <rect x={p.left} y={p.top} width={fr - p.left} height={p.bottom - p.top} />
        </clipPath>
      </defs>
      <g clipPath={`url(#${clipId})`}>
        <line x1={x(SOLAR_AGE)} x2={x(SOLAR_AGE)} y1={p.top} y2={p.bottom} stroke="#555" strokeWidth={1.3} strokeDasharray="9 7" />
        <line x1={p.left} x2={fr} y1={y(SIGMA_REF)} y2={y(SIGMA_REF)} stroke="#555" strokeWidth={1.3} strokeDasharray="9 7" />
        {p.red.map((r, i) => <ErrorBar key={`rb${i}`} x={x} y={y} row={r} color={RED_BAR} />)}
        {p.red.map((r, i) => (
          <circle key={`rc${i}`} cx={x(r[0])} cy={y(r[1])} r={rScale(r[4])} fill="none" stroke={RED_RING} strokeWidth={r[4] > 90 ? 2.8 : 1.3} />
        ))}
        {p.gray.map((r, i) => <ErrorBar key={`gb${i}`} x={x} y={y} row={r} color={GRAY_BAR} />)}
        {p.gray.map((r, i) => (
          <circle key={`gc${i}`} cx={x(r[0])} cy={y(r[1])} r={Math.max(1.3, rScale(r[4]))} fill={GRAY_FILL} />
        ))}
      </g>
      <rect x={p.left} y={p.top} width={fr - p.left} height={p.bottom - p.top} fill="none" stroke="#000" strokeWidth={1.5} />
      <g stroke="#000" strokeWidth={1.3}>
        {AGE_TICKS.map((t) => {
          const len = isMajorAge(t) ? 9 : 5;
          return (
            <g key={`at${t}`}>
              <line x1={x(t)} x2={x(t)} y1={p.bottom} y2={p.bottom - len} />
              <line x1={x(t)} x2={x(t)} y1={p.top} y2={p.top + len} />
            </g>
          );
        })}
        {p.sigmaTicks.map((t) => {
          const len = isMajorSigma(t) ? 9 : 6;
          return (
            <g key={`st${t}`}>
              <line x1={p.left} x2={p.left + len} y1={y(t)} y2={y(t)} />
              <line x1={fr} x2={fr - len} y1={y(t)} y2={y(t)} />
            </g>
          );
        })}
      </g>
      {p.showAgeLabels &&
        AGE_LABELS.map((t) => (
          <text key={`al${t}`} x={x(t)} y={938} textAnchor="middle" fontFamily={FONT} fontSize={17} fill="#000">
            {t}
          </text>
        ))}
      {p.showSigmaLabels &&
        p.sigmaLabels.map((t) => (
          <text key={`sl${t}`} transform={`translate(68,${y(t)}) rotate(-90)`} textAnchor="middle" fontFamily={FONT} fontSize={17} fill="#000">
            {t}
          </text>
        ))}
      <text x={p.title.tagX} y={p.title.tagY} textAnchor={p.title.tagAnchor} fontFamily={FONT} fontSize={16} fill="#000">
        {p.component}
      </text>
      <text x={p.title.sx} y={p.title.sy} fontFamily={FONT} fontWeight="bold" fontSize={68} fill="#000">
        σ
      </text>
      <text x={p.title.subX} y={p.title.subY} fontFamily={FONT} fontWeight="bold" fontSize={43} fill="#000">
        {p.component}
      </text>
    </g>
  );
}

function AgeCaption({ cx, bigX, arrowX }: { cx: number; bigX: number; arrowX: number }) {
  const ay = 943;
  return (
    <g>
      <text x={cx} y={976} textAnchor="middle" fontFamily={FONT} fontSize={16} fill="#000">
        Age (Gyr)
      </text>
      <text x={bigX} y={961} textAnchor="middle" fontFamily={FONT} fontWeight="bold" fontSize={65} fill="#000">
        Age
      </text>
      <g stroke="#000" strokeWidth={3.5} fill="none" strokeLinecap="butt">
        <line x1={arrowX} x2={arrowX + 58} y1={ay} y2={ay} />
        <polyline points={`${arrowX + 46},${ay - 12} ${arrowX + 59},${ay} ${arrowX + 46},${ay + 12}`} />
      </g>
    </g>
  );
}

export default function App() {
  return (
    <svg width={1204} height={991} style={{ position: 'absolute', left: 0, top: 0, display: 'block' }}>
      <rect x={0} y={0} width={1204} height={991} fill="#0b0b0b" />
      <rect x={7} y={5} width={1197} height={986} fill="#ff0000" />
      <rect x={0} y={469} width={15} height={127} fill="#ff0000" />
      <rect x={0} y={477} width={6} height={111} fill="#ffffff" />
      <rect x={15} y={13} width={1189} height={974} fill="#ffffff" />
      {PANELS.map((p) => (
        <Panel key={p.id} p={p} />
      ))}
      <text transform="translate(42,260) rotate(-90)" textAnchor="middle" fontFamily={FONT} fontSize={16} fill="#000">
        σ (km/s)
      </text>
      <text transform="translate(42,703) rotate(-90)" textAnchor="middle" fontFamily={FONT} fontSize={16} fill="#000">
        σ (km/s)
      </text>
      <AgeCaption cx={361} bigX={377} arrowX={459} />
      <AgeCaption cx={922} bigX={925} arrowX={1006} />
    </svg>
  );
}
